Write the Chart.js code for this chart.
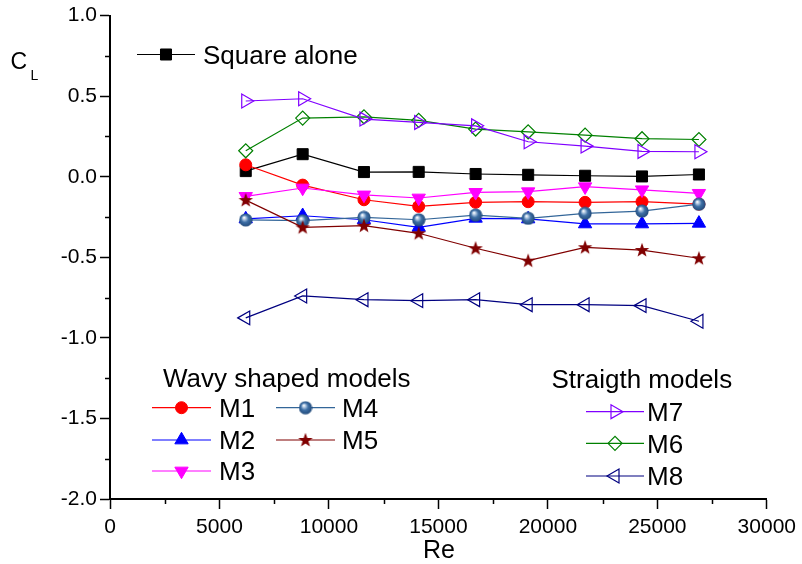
<!DOCTYPE html>
<html>
<head>
<meta charset="utf-8">
<script src="https://cdn.jsdelivr.net/npm/chart.js@4/dist/chart.umd.min.js"></script>
<style>
html,body{margin:0;padding:0;background:#fff;}
#c{display:block;}
</style>
</head>
<body>
<canvas id="c" width="802" height="564"></canvas>
<script>
// ---- data ----
const re = [6200, 8800, 11600, 14100, 16700, 19100, 21700, 24300, 26900];
const squareAlone = [0.035, 0.140, 0.029, 0.030, 0.017, 0.012, 0.006, 0.002, 0.014];
const m1 = [0.074, -0.052, -0.143, -0.184, -0.159, -0.155, -0.159, -0.155, -0.170];
const m2 = [-0.262, -0.242, -0.267, -0.314, -0.258, -0.262, -0.293, -0.293, -0.289];
const m3 = [-0.122, -0.070, -0.113, -0.132, -0.097, -0.093, -0.062, -0.081, -0.103];
const m4 = [-0.268, -0.273, -0.252, -0.267, -0.238, -0.258, -0.227, -0.213, -0.170];
const m5 = [-0.145, -0.314, -0.304, -0.351, -0.444, -0.521, -0.438, -0.455, -0.506];
const m6 = [0.161, 0.364, 0.372, 0.350, 0.296, 0.279, 0.258, 0.236, 0.231];
const m7 = [0.470, 0.484, 0.358, 0.337, 0.316, 0.217, 0.190, 0.157, 0.155];
const m8 = [-0.876, -0.740, -0.763, -0.769, -0.763, -0.794, -0.794, -0.800, -0.897];
const xTicks = [0, 5000, 10000, 15000, 20000, 25000, 30000];
const yTicks = [-2.0, -1.5, -1.0, -0.5, 0.0, 0.5, 1.0];
const seriesNames = ['Square alone', 'M1', 'M2', 'M3', 'M4', 'M5', 'M6', 'M7', 'M8'];

const FONT = '"Liberation Sans", Arial, Helvetica, sans-serif';

// custom marker images
function makeStar() {
  const c = document.createElement('canvas');
  c.width = 16; c.height = 16;
  const g = c.getContext('2d');
  g.fillStyle = '#800000';
  g.beginPath();
  const cx = 8, cy = 8.4, R = 7.6, r = 3.1;
  for (let i = 0; i < 10; i++) {
    const a = -Math.PI / 2 + i * Math.PI / 5;
    const rr = i % 2 === 0 ? R : r;
    const px = cx + rr * Math.cos(a), py = cy + rr * Math.sin(a);
    if (i === 0) g.moveTo(px, py); else g.lineTo(px, py);
  }
  g.closePath();
  g.fill();
  return c;
}
function makeSphere() {
  const c = document.createElement('canvas');
  c.width = 14; c.height = 14;
  const g = c.getContext('2d');
  const grd = g.createRadialGradient(5.2, 4.6, 0.3, 7, 7, 7);
  grd.addColorStop(0, '#ffffff');
  grd.addColorStop(0.22, '#a9c2de');
  grd.addColorStop(0.5, '#3f70a6');
  grd.addColorStop(1, '#1e4676');
  g.fillStyle = grd;
  g.beginPath();
  g.arc(7, 7, 6.6, 0, Math.PI * 2);
  g.fill();
  return c;
}
const starImg = makeStar();
const sphereImg = makeSphere();

function pts(arr) { return arr.map((v, i) => ({ x: re[i], y: v })); }

const styles = [
  { color: '#000000', ps: 'rect', rot: 0, r: 7.8, fill: '#000000', bw: 1 },
  { color: '#FF0000', ps: 'circle', rot: 0, r: 6, fill: '#FF0000', bw: 1 },
  { color: '#0000FF', ps: 'triangle', rot: 0, r: 7.7, fill: '#0000FF', bw: 1 },
  { color: '#FF00FF', ps: 'triangle', rot: 180, r: 7.7, fill: '#FF00FF', bw: 1 },
  { color: '#336699', ps: sphereImg, rot: 0, r: 7, fill: '#336699', bw: 0 },
  { color: '#800000', ps: starImg, rot: 0, r: 8, fill: '#800000', bw: 0 },
  { color: '#008000', ps: 'rectRot', rot: 0, r: 7, fill: 'rgba(0,0,0,0)', bw: 1.2 },
  { color: '#8000FF', ps: 'triangle', rot: 90, r: 8, fill: 'rgba(0,0,0,0)', bw: 1.2 },
  { color: '#000080', ps: 'triangle', rot: -90, r: 8, fill: 'rgba(0,0,0,0)', bw: 1.2 }
];
const values = [squareAlone, m1, m2, m3, m4, m5, m6, m7, m8];

const datasets = values.map((v, i) => ({
  label: seriesNames[i],
  data: pts(v),
  borderColor: styles[i].color,
  borderWidth: 1.2,
  backgroundColor: styles[i].fill,
  pointStyle: styles[i].ps,
  pointRotation: styles[i].rot,
  pointRadius: styles[i].r,
  pointBackgroundColor: styles[i].fill,
  pointBorderColor: styles[i].color,
  pointBorderWidth: styles[i].bw,
  tension: 0,
  fill: false,
  order: 20 - i
}));

const LEGEND_FONT = '26px ' + FONT;

function legendItem(ctx, i, x1, x2, y, tx) {
  const s = styles[i];
  ctx.save();
  ctx.strokeStyle = s.color;
  ctx.lineWidth = 1.2;
  ctx.beginPath();
  ctx.moveTo(x1, y); ctx.lineTo(x2, y);
  ctx.stroke();
  ctx.fillStyle = s.fill;
  ctx.strokeStyle = s.color;
  ctx.lineWidth = s.bw;
  Chart.helpers.drawPoint(ctx, { pointStyle: s.ps, rotation: s.rot, radius: s.r, borderWidth: s.bw }, (x1 + x2) / 2, y);
  ctx.fillStyle = '#000';
  ctx.font = LEGEND_FONT;
  ctx.textAlign = 'left';
  ctx.textBaseline = 'alphabetic';
  ctx.fillText(seriesNames[i], tx, y + 9.2);
  ctx.restore();
}

const decor = {
  id: 'decor',
  afterDraw(chart) {
    const ctx = chart.ctx;
    const xs = chart.scales.x, ys = chart.scales.y;
    const ca = chart.chartArea;
    ctx.save();
    // minor ticks
    ctx.strokeStyle = '#000';
    ctx.lineWidth = 1.5;
    ctx.beginPath();
    for (let v = 2500; v < 30000; v += 5000) {
      const px = Math.round(xs.getPixelForValue(v)) + 0.5;
      ctx.moveTo(px, ca.bottom); ctx.lineTo(px, ca.bottom + 5);
    }
    for (let v = -1.75; v < 1; v += 0.5) {
      const py = Math.round(ys.getPixelForValue(v)) + 0.5;
      ctx.moveTo(ca.left, py); ctx.lineTo(ca.left - 5, py);
    }
    ctx.stroke();
    // axis titles
    ctx.fillStyle = '#000';
    ctx.textAlign = 'left';
    ctx.textBaseline = 'alphabetic';
    ctx.font = '25px ' + FONT;
    ctx.fillText('Re', 423, 558);
    ctx.font = '23px ' + FONT;
    ctx.fillText('C', 10.5, 69);
    ctx.font = '14px ' + FONT;
    ctx.fillText('L', 30.5, 80);
    // legend titles
    ctx.font = LEGEND_FONT;
    ctx.fillText('Wavy shaped models', 163, 387);
    ctx.fillText('Straigth models', 551.5, 387.5);
    ctx.restore();
    // legend items
    legendItem(ctx, 0, 137, 195, 54.5, 203);
    legendItem(ctx, 1, 152, 211, 407.7, 219);
    legendItem(ctx, 2, 152, 211, 440, 219);
    legendItem(ctx, 3, 152, 211, 471, 219);
    legendItem(ctx, 4, 276, 335, 407.7, 342);
    legendItem(ctx, 5, 276, 335, 440, 342);
    legendItem(ctx, 7, 586, 644, 411.7, 647);
    legendItem(ctx, 6, 586, 644, 443.3, 647);
    legendItem(ctx, 8, 586, 644, 476, 647);
  }
};

new Chart(document.getElementById('c'), {
  type: 'line',
  data: { datasets },
  options: {
    responsive: false,
    animation: false,
    events: [],
    layout: { padding: { top: 15, right: 32, left: 0, bottom: 0 } },
    plugins: { legend: { display: false }, tooltip: { enabled: false }, title: { display: false } },
    scales: {
      x: {
        type: 'linear',
        min: 0, max: 30000,
        afterFit(s) { s.height = 65; },
        afterBuildTicks(s) { s.ticks = xTicks.map(v => ({ value: v })); },
        border: { display: true, color: '#000', width: 2 },
        grid: { display: true, drawOnChartArea: false, drawTicks: true, tickLength: 10, tickColor: '#000', tickWidth: 1.5 },
        ticks: { color: '#000', font: { family: FONT, size: 21 }, padding: 6, maxRotation: 0, autoSkip: false,
                 callback: v => String(v) }
      },
      y: {
        type: 'linear',
        min: -2, max: 1,
        afterFit(s) { s.width = 110; },
        afterBuildTicks(s) { s.ticks = yTicks.map(v => ({ value: v })); },
        border: { display: true, color: '#000', width: 2 },
        grid: { display: true, drawOnChartArea: false, drawTicks: true, tickLength: 10, tickColor: '#000', tickWidth: 1.5 },
        ticks: { color: '#000', font: { family: FONT, size: 21 }, padding: 3, autoSkip: false,
                 callback: v => Number(v).toFixed(1) }
      }
    }
  },
  plugins: [decor]
});
</script>
</body>
</html>
